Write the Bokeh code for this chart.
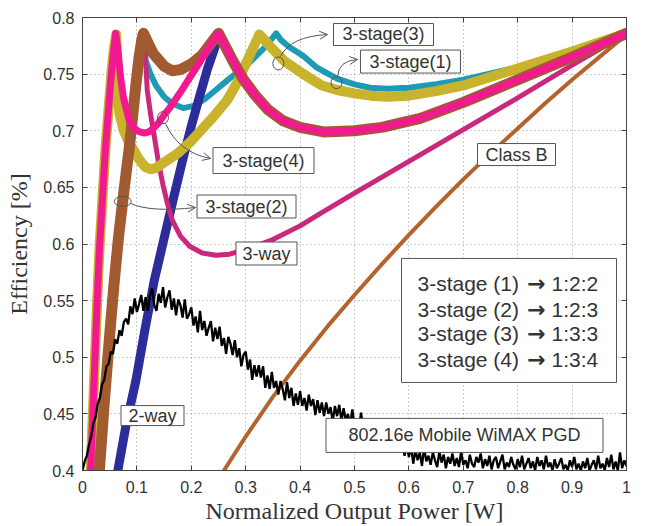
import numpy as np
from bokeh.plotting import figure
from bokeh.models import Range1d, FixedTicker, LinearAxis, Arrow, OpenHead, NumeralTickFormatter
from bokeh.core.properties import value
from bokeh.embed import file_html
from bokeh.resources import INLINE

# ---------------- data ----------------
x_ticks = [0, 0.1, 0.2, 0.3, 0.4, 0.5, 0.6, 0.7, 0.8, 0.9, 1.0]
y_ticks = [0.4, 0.45, 0.5, 0.55, 0.6, 0.65, 0.7, 0.75, 0.8]

classb_x = [0.26, 0.30, 0.35, 0.40, 0.45, 0.50, 0.55, 0.60, 0.65, 0.70, 0.75, 0.80, 0.85, 0.90, 0.95, 1.00]
classb_y = [0.400, 0.430, 0.465, 0.497, 0.527, 0.555, 0.582, 0.608, 0.633, 0.657, 0.680, 0.702, 0.724, 0.745, 0.765, 0.785]

twoway_x = [0.065, 0.080, 0.098, 0.115, 0.132, 0.150, 0.168, 0.184, 0.200, 0.215, 0.230, 0.245, 0.250,
            0.262, 0.276, 0.295, 0.318, 0.340, 0.368, 0.400, 0.443, 0.500, 0.550, 0.621, 0.700, 0.805, 0.900, 1.000]
twoway_y = [0.400, 0.440, 0.479, 0.525, 0.568, 0.605, 0.642, 0.674, 0.704, 0.730, 0.755, 0.776, 0.786,
            0.775, 0.762, 0.746, 0.731, 0.719, 0.709, 0.703, 0.699, 0.700, 0.703, 0.711, 0.725, 0.746, 0.765, 0.786]

threeway_x = [0.112, 0.116, 0.119, 0.125, 0.131, 0.140, 0.148, 0.156, 0.165, 0.180, 0.197, 0.220, 0.245, 0.270,
              0.300, 0.350, 0.400, 0.4375, 0.500, 0.600, 0.700, 0.800, 0.900, 1.000]
threeway_y = [0.786, 0.762, 0.736, 0.715, 0.698, 0.671, 0.652, 0.636, 0.621, 0.607, 0.598, 0.592, 0.590, 0.591,
              0.595, 0.604, 0.616, 0.627, 0.645, 0.673, 0.701, 0.729, 0.758, 0.786]

stage1_x = [0.112, 0.116, 0.125, 0.135, 0.150, 0.165, 0.185, 0.205, 0.225, 0.245, 0.270, 0.300, 0.336, 0.356,
            0.365, 0.380, 0.406, 0.430, 0.468, 0.500, 0.529, 0.560, 0.600, 0.650, 0.700, 0.800, 0.900, 1.000]
stage1_y = [0.786, 0.762, 0.750, 0.740, 0.730, 0.724, 0.720, 0.722, 0.728, 0.736, 0.746, 0.757, 0.774, 0.786,
            0.780, 0.774, 0.766, 0.756, 0.746, 0.741, 0.738, 0.737, 0.738, 0.741, 0.745, 0.756, 0.770, 0.786]

stage3_x = [0.015, 0.019, 0.023, 0.027, 0.031, 0.036, 0.042, 0.048, 0.053, 0.057, 0.062,
            0.064, 0.068, 0.076, 0.085, 0.094, 0.105, 0.115, 0.125, 0.135, 0.150, 0.175, 0.200, 0.217,
            0.240, 0.266, 0.285, 0.303, 0.325, 0.335, 0.346, 0.370, 0.406, 0.440, 0.468, 0.500, 0.529,
            0.560, 0.600, 0.650, 0.700, 0.800, 0.900, 1.000]
stage3_y = [0.400, 0.450, 0.500, 0.550, 0.594, 0.635, 0.683, 0.720, 0.750, 0.770, 0.785,
            0.736, 0.715, 0.700, 0.690, 0.683, 0.674, 0.668, 0.666, 0.667, 0.672, 0.680, 0.691, 0.700,
            0.712, 0.727, 0.743, 0.762, 0.785, 0.780, 0.774, 0.762, 0.750, 0.740, 0.736, 0.733, 0.731,
            0.730, 0.731, 0.735, 0.740, 0.755, 0.770, 0.786]

stage2_x = [0.031, 0.040, 0.050, 0.058, 0.066, 0.0735, 0.080, 0.086, 0.092, 0.098, 0.104, 0.109, 0.112,
            0.130, 0.150, 0.165, 0.180, 0.200, 0.220, 0.250,
            0.262, 0.276, 0.295, 0.318, 0.340, 0.368, 0.400, 0.443, 0.500, 0.550, 0.621, 0.700, 0.805, 0.900, 1.000]
stage2_y = [0.400, 0.460, 0.520, 0.565, 0.605, 0.636, 0.662, 0.685, 0.712, 0.740, 0.765, 0.780, 0.786,
            0.768, 0.757, 0.753, 0.754, 0.759, 0.767, 0.786,
            0.775, 0.762, 0.746, 0.731, 0.719, 0.709, 0.703, 0.699, 0.700, 0.703, 0.711, 0.725, 0.746, 0.765, 0.786]

stage4_x = [0.015, 0.019, 0.023, 0.027, 0.031, 0.036, 0.042, 0.048, 0.053, 0.057, 0.061,
            0.065, 0.070, 0.075, 0.080, 0.086, 0.095, 0.105, 0.114, 0.122, 0.130, 0.140, 0.150, 0.160,
            0.170, 0.184, 0.200, 0.215, 0.230, 0.242, 0.250,
            0.262, 0.276, 0.295, 0.318, 0.340, 0.368, 0.400, 0.443, 0.500, 0.550, 0.621, 0.700, 0.805, 0.900, 1.000]
stage4_y = [0.400, 0.450, 0.500, 0.550, 0.594, 0.635, 0.683, 0.720, 0.750, 0.770, 0.786,
            0.772, 0.747, 0.730, 0.720, 0.709, 0.702, 0.699, 0.698, 0.699, 0.702, 0.707, 0.714, 0.720,
            0.727, 0.737, 0.749, 0.760, 0.772, 0.781, 0.786,
            0.775, 0.762, 0.746, 0.731, 0.719, 0.709, 0.703, 0.699, 0.700, 0.703, 0.711, 0.725, 0.746, 0.765, 0.786]

wimax_y = [
    0.400, 0.408, 0.413, 0.423, 0.430, 0.442, 0.447, 0.459, 0.464, 0.476,
    0.480, 0.492, 0.494, 0.505, 0.503, 0.516, 0.512, 0.524, 0.519, 0.531,
    0.534, 0.529, 0.545, 0.538, 0.552, 0.540, 0.547, 0.555, 0.541, 0.553,
    0.541, 0.554, 0.561, 0.546, 0.541, 0.556, 0.548, 0.562, 0.544, 0.553,
    0.559, 0.542, 0.552, 0.537, 0.551, 0.546, 0.535, 0.551, 0.534, 0.538,
    0.544, 0.528, 0.536, 0.522, 0.541, 0.524, 0.532, 0.519, 0.526, 0.532,
    0.514, 0.526, 0.516, 0.527, 0.510, 0.517, 0.503, 0.518, 0.512, 0.502,
    0.515, 0.500, 0.508, 0.492, 0.502, 0.505, 0.489, 0.498, 0.480, 0.493,
    0.483, 0.493, 0.482, 0.492, 0.473, 0.484, 0.472, 0.487, 0.473, 0.479,
    0.467, 0.479, 0.472, 0.462, 0.478, 0.464, 0.473, 0.457, 0.468, 0.458,
    0.470, 0.457, 0.464, 0.453, 0.467, 0.457, 0.463, 0.449, 0.462, 0.451,
    0.460, 0.448, 0.460, 0.450, 0.456, 0.443, 0.457, 0.448, 0.458, 0.444,
    0.455, 0.444, 0.450, 0.440, 0.454, 0.440, 0.446, 0.437, 0.451, 0.438,
    0.445, 0.433, 0.442, 0.433, 0.442, 0.429, 0.436, 0.425, 0.437, 0.427,
    0.424, 0.433, 0.421, 0.427, 0.417, 0.429, 0.418, 0.425, 0.413, 0.422,
    0.412, 0.421, 0.406, 0.418, 0.409, 0.416, 0.404, 0.420, 0.408, 0.413,
    0.405, 0.416, 0.409, 0.403, 0.417, 0.407, 0.414, 0.402, 0.412, 0.406,
    0.415, 0.404, 0.411, 0.403, 0.417, 0.405, 0.409, 0.402, 0.414, 0.406,
    0.403, 0.412, 0.407, 0.415, 0.402, 0.410, 0.404, 0.413, 0.401, 0.409,
    0.412, 0.402, 0.408, 0.414, 0.401, 0.407, 0.403, 0.412, 0.405, 0.401,
    0.410, 0.403, 0.413, 0.401, 0.406, 0.411, 0.402, 0.408, 0.400, 0.412,
    0.404, 0.409, 0.401, 0.413, 0.403, 0.407, 0.400, 0.410, 0.402, 0.406,
    0.411, 0.401, 0.405, 0.400, 0.409, 0.403, 0.412, 0.401, 0.406, 0.400,
    0.408, 0.402, 0.411, 0.400, 0.405, 0.409, 0.401, 0.413, 0.402, 0.406,
    0.400, 0.411, 0.403, 0.414, 0.401, 0.408, 0.400, 0.416, 0.402, 0.409,
    0.404]
wimax_x = np.linspace(0, 1, len(wimax_y))

# curve labels: text, x, y, box width px, box height px
label_text = ["3-stage(3)", "3-stage(1)", "3-stage(4)", "3-stage(2)", "3-way", "Class B", "2-way",
              "802.16e Mobile WiMAX PGD"]
label_x = [0.5533, 0.6029, 0.3327, 0.3015, 0.3382, 0.7978, 0.1287, 0.7022]
label_y = [0.785, 0.7611, 0.6737, 0.6331, 0.5916, 0.679, 0.4485, 0.431]
label_w = [100, 100, 101, 99, 61, 78, 63, 277]
label_h = [22, 23, 26, 23, 23, 22, 20, 34]

# callout ellipses and curved arrows (start, control, end)
mark_x = [0.360, 0.467, 0.148, 0.074]
mark_y = [0.7594, 0.7425, 0.7116, 0.6376]
mark_w = [11, 11, 11, 17]
mark_h = [13, 12, 12, 10]
arr_x0 = [0.364, 0.4688, 0.1526, 0.0882]
arr_y0 = [0.7656, 0.7479, 0.7064, 0.6358]
arr_cx = [0.382, 0.4706, 0.1765, 0.125]
arr_cy = [0.7832, 0.7620, 0.6808, 0.6278]
arr_x1 = [0.4504, 0.5055, 0.2353, 0.2077]
arr_y1 = [0.785, 0.7629, 0.6755, 0.6322]

legend_names = ["3-stage (1)", "3-stage (2)", "3-stage (3)", "3-stage (4)"]
legend_ratios = ["1:2:2", "1:2:3", "1:3:3", "1:3:4"]
legend_x_name = 0.6158
legend_x_arrow = 0.8346
legend_x_ratio = 0.8621
legend_y = [0.5651, 0.5421, 0.5209, 0.4979]

# ---------------- figure ----------------
p = figure(width=649, height=526, output_backend="svg", toolbar_location=None,
           x_range=Range1d(0, 1), y_range=Range1d(0.4, 0.8),
           min_border_left=82, min_border_right=23, min_border_top=17, min_border_bottom=56)
p.background_fill_color = "white"
p.border_fill_color = "white"
p.outline_line_color = "#444444"

for ax, ticks in ((p.xaxis, x_ticks), (p.yaxis, y_ticks)):
    ax.ticker = FixedTicker(ticks=ticks)
    ax.formatter = NumeralTickFormatter(format="0.[00]")
    ax.major_tick_in = 5
    ax.major_tick_out = 0
    ax.minor_tick_in = 0
    ax.minor_tick_out = 0
    ax.axis_line_color = "#444444"
    ax.major_tick_line_color = "#444444"
    ax.major_label_text_font = "Liberation Sans"
    ax.major_label_text_font_size = "16px"
    ax.major_label_text_color = "#333333"
    ax.axis_label_text_font = "Liberation Serif"
    ax.axis_label_text_font_size = "24px"
    ax.axis_label_text_font_style = "normal"
    ax.axis_label_text_color = "#333333"

p.xaxis.axis_label = "Normalized Output Power [W]"
p.yaxis.axis_label = "Efficiency [%]"
p.xaxis.major_label_standoff = 10
p.yaxis.major_label_standoff = 8
p.xaxis.axis_label_standoff = 2
p.yaxis.axis_label_standoff = 8

for loc, ticks in (("right", y_ticks), ("above", x_ticks)):
    a = LinearAxis(ticker=FixedTicker(ticks=ticks), major_tick_in=5, major_tick_out=0,
                   minor_tick_in=0, minor_tick_out=0, major_label_text_font_size="1px",
                   major_label_text_alpha=0, major_label_standoff=0,
                   axis_line_color="#444444", major_tick_line_color="#444444")
    p.add_layout(a, loc)

p.xgrid.ticker = FixedTicker(ticks=x_ticks)
p.ygrid.ticker = FixedTicker(ticks=y_ticks)
for g in (p.xgrid, p.ygrid):
    g.grid_line_color = "#9a9a9a"
    g.grid_line_dash = "1 3"
    g.grid_line_width = 1

kw = dict(line_join="round", line_cap="round")
p.line(classb_x, classb_y, line_color="#b5632c", line_width=4, **kw)
p.line(stage1_x, stage1_y, line_color="#1e9ab5", line_width=6, **kw)
p.line(twoway_x, twoway_y, line_color="#2c2c9a", line_width=9, **kw)
p.line(threeway_x, threeway_y, line_color="#c9287c", line_width=5, **kw)
p.line(stage3_x, stage3_y, line_color="#c9b22c", line_width=10, **kw)
p.line(stage2_x, stage2_y, line_color="#a25a30", line_width=11, **kw)
p.line(stage4_x, stage4_y, line_color="#f21890", line_width=7, **kw)
p.line(wimax_x, wimax_y, line_color="black", line_width=2.3)

# callouts
p.ellipse(mark_x, mark_y, width=mark_w, height=mark_h, width_units="screen", height_units="screen",
          fill_alpha=0, line_color="#555555", line_width=1)
p.quadratic(x0=arr_x0, y0=arr_y0, x1=arr_x1, y1=arr_y1, cx=arr_cx, cy=arr_cy,
            line_color="#555555", line_width=1)
for i in range(len(arr_x0)):
    t = 0.85
    sx = (1 - t) ** 2 * arr_x0[i] + 2 * (1 - t) * t * arr_cx[i] + t ** 2 * arr_x1[i]
    sy = (1 - t) ** 2 * arr_y0[i] + 2 * (1 - t) * t * arr_cy[i] + t ** 2 * arr_y1[i]
    p.add_layout(Arrow(end=OpenHead(size=8, line_color="#555555", line_width=1),
                       x_start=sx, y_start=sy, x_end=arr_x1[i], y_end=arr_y1[i], line_alpha=0))

# label boxes
p.rect(label_x, label_y, width=label_w, height=label_h, width_units="screen", height_units="screen",
       fill_color="white", line_color="#555555", line_width=1)
p.text(label_x, label_y, text=label_text, text_align="center", text_baseline="middle",
       text_font=value("Liberation Sans"), text_font_size="18px", text_color="#333333")

# ratio legend box
n = len(legend_names)
p.rect([0.784], [0.5325], width=[215], height=[124], width_units="screen", height_units="screen",
       fill_color="white", line_color="#555555", line_width=1)
p.text([legend_x_name] * n, legend_y, text=legend_names, text_align="left", text_baseline="middle",
       text_font=value("Liberation Sans"), text_font_size="21px", text_color="#333333")
p.text([legend_x_arrow] * n, legend_y, text=["\u2192"] * n, text_align="center", text_baseline="middle",
       text_font=value("DejaVu Sans"), text_font_size="22px", text_font_style="bold", text_color="#333333")
p.text([legend_x_ratio] * n, legend_y, text=legend_ratios, text_align="left", text_baseline="middle",
       text_font=value("Liberation Sans"), text_font_size="21px", text_color="#333333")

open("out.html", "w").write(file_html(p, INLINE))
